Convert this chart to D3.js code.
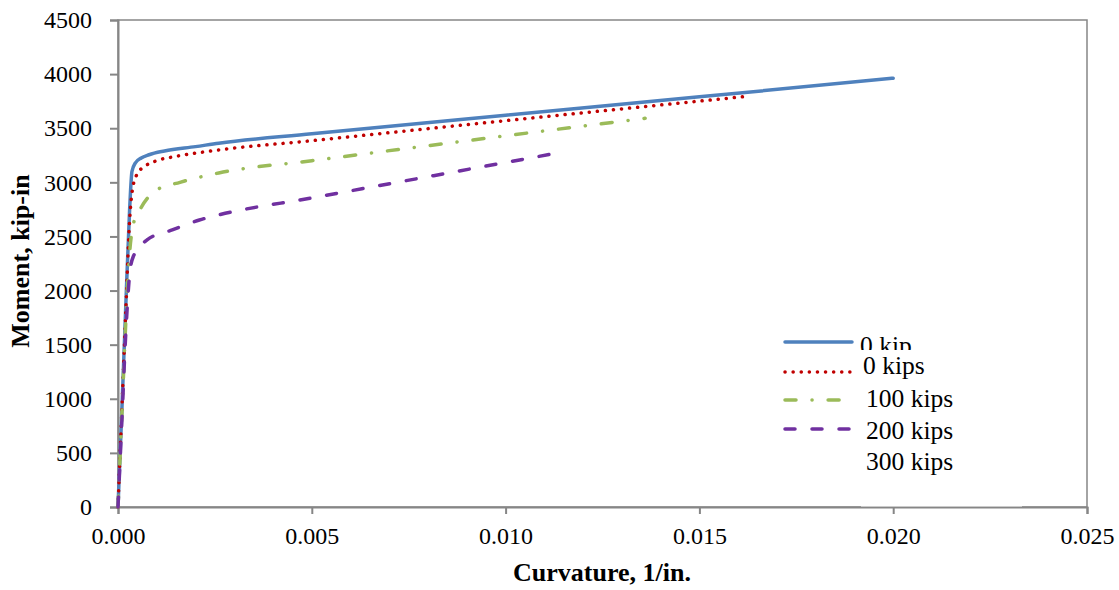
<!DOCTYPE html>
<html>
<head>
<meta charset="utf-8">
<script src="https://cdn.jsdelivr.net/npm/d3@7/dist/d3.min.js"></script>
<style>
  html, body { margin: 0; padding: 0; background: #fff; }
  svg { display: block; font-family: "Liberation Serif", "Times New Roman", serif; }
</style>
</head>
<body>
<svg id="chart" width="1119" height="590"></svg>
<script>
// Moment–curvature response for four axial load levels
const xTicks = [0, 0.005, 0.010, 0.015, 0.020, 0.025];
const yTicks = [0, 500, 1000, 1500, 2000, 2500, 3000, 3500, 4000, 4500];

const curv0 = [0, 0.0001, 0.0002, 0.0003, 0.00036, 0.00045, 0.0006, 0.0008, 0.0012, 0.002, 0.0026, 0.005, 0.010, 0.015, 0.020];
const mom0  = [0, 900, 1850, 2750, 3100, 3180, 3225, 3255, 3290, 3330, 3362, 3448, 3620, 3790, 3962];

const curvA = [0, 0.0001, 0.0002, 0.0003, 0.00038, 0.0005, 0.0007, 0.001, 0.0015, 0.0024, 0.005, 0.010, 0.01615];
const momA  = [0, 900, 1800, 2650, 2950, 3080, 3150, 3200, 3240, 3290, 3385, 3570, 3792];

const curv100 = [0, 0.0001, 0.0002, 0.0003, 0.0004, 0.00057, 0.0008, 0.001, 0.0016, 0.0026, 0.005, 0.010, 0.0136];
const mom100  = [0, 850, 1700, 2350, 2620, 2750, 2870, 2930, 3000, 3087, 3200, 3430, 3592];

const curv200 = [0, 0.0001, 0.0002, 0.0003, 0.00039, 0.00075, 0.0014, 0.0021, 0.0026, 0.005, 0.0112];
const mom200  = [0, 800, 1600, 2150, 2310, 2468, 2560, 2652, 2699, 2856, 3262];

const legendLabels = ["0  kip", "0 kips", "100 kips", "200 kips", "300 kips"];

const series = [
  { x: curv0,   y: mom0,   color: "#4f81bd", dash: null,            width: 3.5 },
  { x: curvA,   y: momA,   color: "#c00000", dash: "0.1 8",         width: 3.5 },
  { x: curv100, y: mom100, color: "#9bbb59", dash: "11 16 0.1 16",  width: 3.5 },
  { x: curv200, y: mom200, color: "#7030a0", dash: "10 17",         width: 3.5 }
];

const svg = d3.select("#chart");
const plot = { left: 118, right: 1087, top: 20, bottom: 507 };

const x = d3.scaleLinear().domain([0, 0.025]).range([plot.left, plot.right]);
const y = d3.scaleLinear().domain([0, 4500]).range([plot.bottom, plot.top]);

const axisColor = "#868686";

// plot frame
svg.append("rect")
  .attr("x", plot.left).attr("y", plot.top)
  .attr("width", plot.right - plot.left).attr("height", plot.bottom - plot.top)
  .attr("fill", "none").attr("stroke", axisColor).attr("stroke-width", 1.5);

// y axis
const yAxis = svg.append("g")
  .attr("transform", `translate(${plot.left},0)`)
  .call(d3.axisLeft(y).tickValues(yTicks).tickSize(8).tickPadding(18).tickFormat(d3.format("d")));

// x axis
const xAxis = svg.append("g")
  .attr("transform", `translate(0,${plot.bottom})`)
  .call(d3.axisBottom(x).tickValues(xTicks).tickSize(7).tickPadding(13).tickFormat(d3.format(".3f")));

[yAxis, xAxis].forEach(g => {
  g.select(".domain").attr("stroke", axisColor).attr("stroke-width", 2);
  g.selectAll(".tick line").attr("stroke", axisColor).attr("stroke-width", 2);
  g.selectAll(".tick text")
    .attr("fill", "#000")
    .style("font-family", "'Liberation Serif', 'Times New Roman', serif")
    .style("font-size", "24px");
});

// curves
const line = d3.line()
  .x(d => x(d[0]))
  .y(d => y(d[1]))
  .curve(d3.curveMonotoneX);

series.forEach(s => {
  const pts = s.x.map((c, i) => [c, s.y[i]]);
  svg.append("path")
    .datum(pts)
    .attr("d", line)
    .attr("fill", "none")
    .attr("stroke", s.color)
    .attr("stroke-width", s.width)
    .attr("stroke-linecap", "round")
    .attr("stroke-linejoin", "round")
    .attr("stroke-dasharray", s.dash);
});

// axis titles
svg.append("text")
  .attr("x", 602).attr("y", 581)
  .attr("text-anchor", "middle")
  .style("font-size", "26px").style("font-weight", "bold")
  .text("Curvature, 1/in.");

svg.append("text")
  .attr("transform", "translate(29,261) rotate(-90)")
  .attr("text-anchor", "middle")
  .style("font-size", "26px").style("font-weight", "bold")
  .text("Moment, kip-in");

// legend
const legendRows = [342, 372, 400, 429];
const legend = svg.append("g");
series.forEach((s, i) => {
  legend.append("line")
    .attr("x1", 785).attr("x2", 852)
    .attr("y1", legendRows[i]).attr("y2", legendRows[i])
    .attr("stroke", s.color)
    .attr("stroke-width", s.width)
    .attr("stroke-linecap", "round")
    .attr("stroke-dasharray", s.dash);
});

legend.append("text")
  .attr("x", 860).attr("y", 354)
  .style("font-size", "25.5px")
  .text(legendLabels[0]);

// label panel sits over the first entry and the axis line
legend.append("rect")
  .attr("x", 861).attr("y", 350)
  .attr("width", 161).attr("height", 156.5)
  .attr("fill", "#fff");

const labelPos = [[863, 374], [866, 407], [866, 439], [866, 470]];
labelPos.forEach((p, i) => {
  legend.append("text")
    .attr("x", p[0]).attr("y", p[1])
    .style("font-size", "25.5px")
    .text(legendLabels[i + 1]);
});
</script>
</body>
</html>
